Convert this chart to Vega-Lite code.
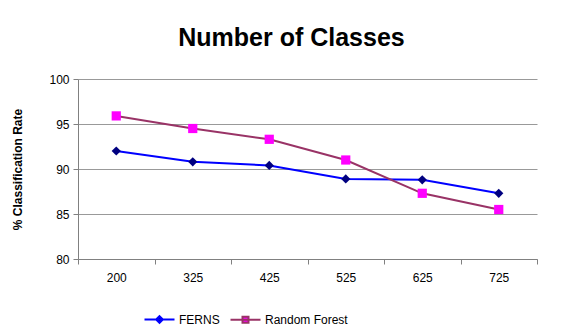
{
  "$schema": "https://vega.github.io/schema/vega-lite/v6.json",
  "autosize": {"type": "none"},
  "width": 459,
  "height": 180,
  "padding": {"left": 78, "top": 79, "right": 32, "bottom": 75},
  "background": "white",
  "title": {"text": "Number of Classes", "font": "Liberation Sans", "fontSize": 25, "fontWeight": "bold", "color": "black", "anchor": "middle", "frame": "group", "dx": -16, "offset": 22},
  "config": {
    "view": {"stroke": null},
    "font": "Liberation Sans"
  },
  "data": {"values": [
    {"classes": "200", "series": "FERNS", "rate": 92.0},
    {"classes": "325", "series": "FERNS", "rate": 90.8},
    {"classes": "425", "series": "FERNS", "rate": 90.4},
    {"classes": "525", "series": "FERNS", "rate": 88.9},
    {"classes": "625", "series": "FERNS", "rate": 88.8},
    {"classes": "725", "series": "FERNS", "rate": 87.3},
    {"classes": "200", "series": "Random Forest", "rate": 95.9},
    {"classes": "325", "series": "Random Forest", "rate": 94.5},
    {"classes": "425", "series": "Random Forest", "rate": 93.3},
    {"classes": "525", "series": "Random Forest", "rate": 91.0},
    {"classes": "625", "series": "Random Forest", "rate": 87.3},
    {"classes": "725", "series": "Random Forest", "rate": 85.5}
  ]},
  "encoding": {
    "x": {"field": "classes", "type": "ordinal", "sort": null, "scale": {"type": "band", "paddingInner": 0, "paddingOuter": 0},
      "axis": {"title": null, "labelAngle": 0, "labelFontSize": 12, "labelColor": "black", "labelPadding": 8, "tickBand": "extent", "ticks": true, "tickSize": 5, "tickColor": "#808080", "domainColor": "#808080", "grid": false}},
    "y": {"field": "rate", "type": "quantitative", "scale": {"domain": [80, 100], "nice": false, "zero": false},
      "axis": {"title": "% Classification Rate", "titleFontSize": 12, "titleFontWeight": "bold", "titleColor": "black", "titlePadding": 24, "values": [80, 85, 90, 95, 100], "labelFontSize": 12, "labelColor": "black", "labelPadding": 4, "tickSize": 5, "tickColor": "#808080", "domainColor": "#808080", "gridColor": "#999999", "grid": true}}
  },
  "layer": [
    {
      "mark": {"type": "line", "strokeWidth": 2},
      "encoding": {
        "stroke": {"field": "series", "type": "nominal", "title": null, "scale": {"domain": ["FERNS", "Random Forest"], "range": ["#0000FF", "#993366"]},
          "legend": {"title": null, "orient": "none", "direction": "horizontal", "legendX": 73, "legendY": 232, "labelFontSize": 12, "labelColor": "black", "symbolSize": 225, "symbolStrokeWidth": 2, "columnPadding": 6, "labelOffset": 11,
            "encode": {"symbols": {"update": {
              "shape": {"signal": "datum.value === 'FERNS' ? 'M-2,0H2M0,-0.45L0.45,0L0,0.45L-0.45,0Z' : 'M-2,0H2M-0.4,-0.4H0.4V0.4H-0.4Z'"},
              "fill": {"signal": "datum.value === 'FERNS' ? '#000080' : '#FF00FF'"},
              "stroke": {"signal": "datum.value === 'FERNS' ? '#0000FF' : '#993366'"},
              "strokeWidth": {"value": 2},
              "opacity": {"value": 1}
            }}}}}
      }
    },
    {
      "transform": [{"filter": "datum.series === 'FERNS'"}],
      "mark": {"type": "point", "shape": "diamond", "filled": true, "color": "#000080", "opacity": 1, "size": 85}
    },
    {
      "transform": [{"filter": "datum.series === 'Random Forest'"}],
      "mark": {"type": "point", "shape": "square", "filled": true, "color": "#FF00FF", "opacity": 1, "size": 85}
    }
  ]
}
